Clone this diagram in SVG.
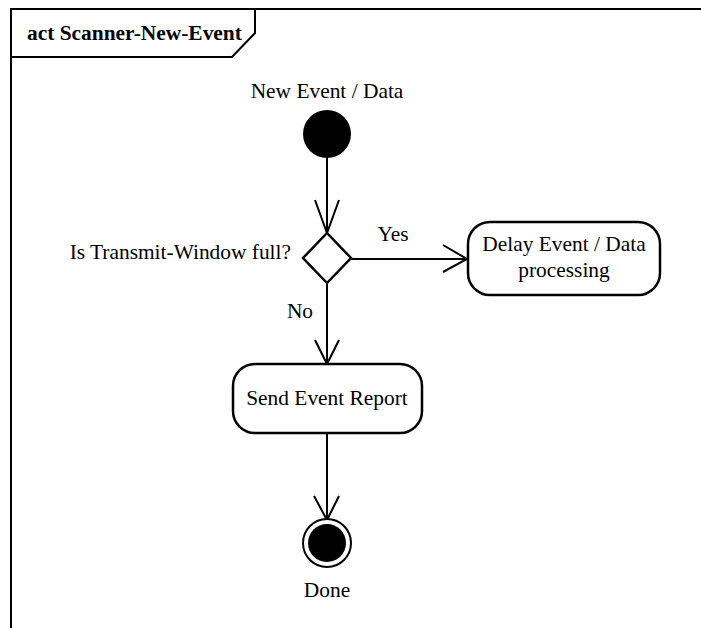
<svg xmlns="http://www.w3.org/2000/svg" width="701" height="628" viewBox="0 0 701 628">
<style>
text{font-family:'Liberation Serif','Times New Roman',Times,'DejaVu Serif',serif;font-size:21.4px;fill:#000}
.t{font-weight:bold}
.ln{fill:none;stroke:#000;stroke-width:2}
.box{fill:#fff;stroke:#000;stroke-width:2.5}
</style>
<rect width="701" height="628" fill="#fff"/>
<g id="frame">
<path class="ln" d="M11,640 V9 H720"/>
<path class="ln" d="M255,9 V33 L232,57 H11"/>
<text class="t" x="27" y="40">act Scanner-New-Event</text>
</g>
<g id="connectors">
<path class="ln" d="M327,158 V233 M315,200 L327,233 L339,200"/>
<path class="ln" d="M351,259 H467 M443,245 L467,259 L443,272"/>
<text x="393" y="241" text-anchor="middle">Yes</text>
<path class="ln" d="M327,283 V364 M315,340 L327,364 L339,340"/>
<text x="300" y="318" text-anchor="middle">No</text>
<path class="ln" d="M327,433 V520 M314,496 L327,520 L339,496"/>
</g>
<g id="start">
<circle cx="327" cy="134" r="24" fill="#000"/>
<text x="327" y="98" text-anchor="middle">New Event / Data</text>
</g>
<g id="decision">
<path class="box" d="M327,233 L351,258 L327,283 L303,258 Z" stroke-width="2"/>
<text x="291" y="259" text-anchor="end">Is Transmit-Window full?</text>
</g>
<g id="delay">
<rect class="box" x="468" y="222" width="192" height="73" rx="22" ry="22"/>
<text x="564" y="251" text-anchor="middle">Delay Event / Data</text>
<text x="564" y="277" text-anchor="middle">processing</text>
</g>
<g id="send">
<rect class="box" x="233" y="364" width="189" height="69" rx="22" ry="22"/>
<text x="327" y="405" text-anchor="middle">Send Event Report</text>
</g>
<g id="final">
<circle cx="327" cy="543" r="24" fill="#fff" stroke="#000" stroke-width="2"/>
<circle cx="327" cy="543" r="19" fill="#000"/>
<text x="327" y="597" text-anchor="middle">Done</text>
</g>
</svg>
